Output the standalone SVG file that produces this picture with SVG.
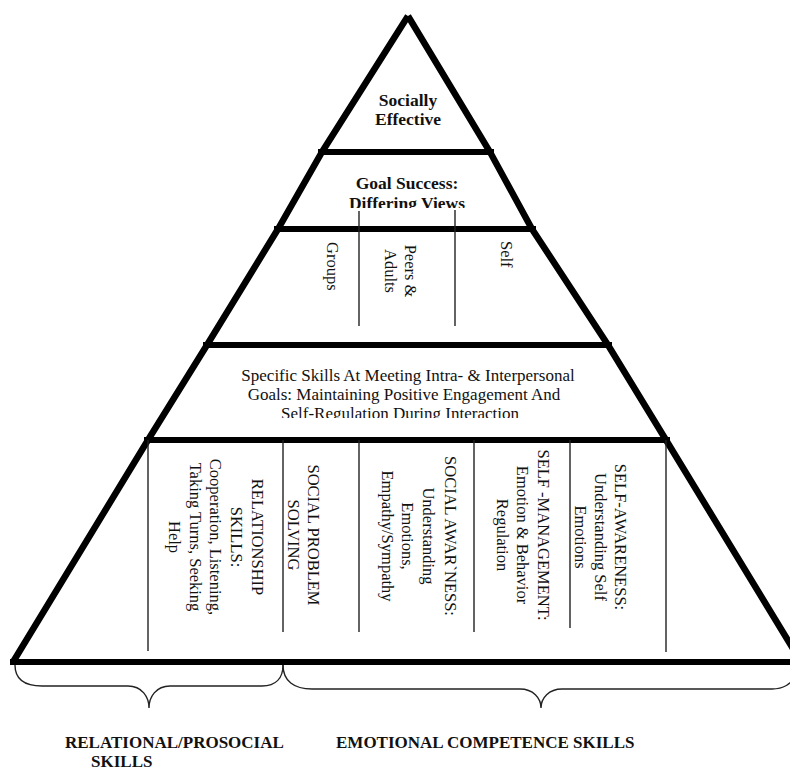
<svg xmlns="http://www.w3.org/2000/svg" width="790" height="771" viewBox="0 0 790 771">
<style>
.edge{fill:none;stroke:#000;stroke-width:6.5;stroke-linejoin:miter;stroke-linecap:butt}
.band{stroke:#000;stroke-width:6}
.div{stroke:#222;stroke-width:1.4}
.brace{fill:none;stroke:#222;stroke-width:1.4}
.t{font-family:"Liberation Serif","Times New Roman",serif;font-size:16.5px;fill:#111}
.m{font-family:"Liberation Serif","Times New Roman",serif;font-size:17px;fill:#111}
.b{font-family:"Liberation Serif","Times New Roman",serif;font-size:17.5px;font-weight:bold;fill:#111}
.lb{font-family:"Liberation Serif","Times New Roman",serif;font-size:17px;font-weight:bold;fill:#111}
</style>
<defs>
<clipPath id="clipGoal"><rect x="300" y="160" width="220" height="48"/></clipPath>
<clipPath id="clipMid"><rect x="200" y="350" width="420" height="68"/></clipPath>
</defs>
<rect width="790" height="771" fill="#fff"/>

<g id="connectors">
<polyline class="edge" points="408,16 322,152 278,229 207,345 148,440 13,662"/>
<polyline class="edge" points="408,16 490,152 532,229 608,345 666,440 806,670"/>
<line class="band" x1="318" y1="152" x2="494" y2="152"/>
<line class="band" x1="274" y1="229" x2="536" y2="229"/>
<line class="band" x1="203" y1="345" x2="612" y2="345"/>
<line class="band" x1="144" y1="440" x2="670" y2="440"/>
<line class="band" x1="10" y1="662" x2="790" y2="662"/>
<line class="div" x1="359" y1="211" x2="359" y2="326"/>
<line class="div" x1="455" y1="210" x2="455" y2="326"/>
<line class="div" x1="148" y1="440" x2="148" y2="651"/>
<line class="div" x1="283" y1="440" x2="283" y2="632"/>
<line class="div" x1="359" y1="440" x2="359" y2="632"/>
<line class="div" x1="474" y1="440" x2="474" y2="632"/>
<line class="div" x1="570" y1="440" x2="570" y2="628"/>
<line class="div" x1="666" y1="440" x2="666" y2="652"/>
<path class="brace" d="M15,665 C15,679 24,686 42,686 L128,686 C142,686 149,697 149,708 C149,697 156,686 170,686 L262,686 C276,686 283,678 283,665"/>
<path class="brace" d="M283,665 C283,681 294,689 312,689 L520,689 C533,689 541,698 541,708 C541,698 549,689 562,689 L772,689 C784,689 790,684 797,676"/>
</g>

<g id="node-socially-effective">
<text class="b" text-anchor="middle" x="408" y="106">Socially</text>
<text class="b" text-anchor="middle" x="408" y="125">Effective</text>
</g>

<g id="node-goal-success" clip-path="url(#clipGoal)">
<text class="b" text-anchor="middle" x="407" y="189">Goal Success:</text>
<text class="b" text-anchor="middle" x="407" y="209">Differing Views</text>
</g>

<g id="node-groups">
<text class="t" transform="translate(326.5,242) rotate(90)">Groups</text>
</g>
<g id="node-peers-adults">
<text class="t" text-anchor="middle" transform="translate(404.5,271) rotate(90)">Peers &amp;<tspan x="0" dy="20">Adults</tspan></text>
</g>
<g id="node-self">
<text class="t" transform="translate(500.5,241) rotate(90)">Self</text>
</g>

<g id="node-specific-skills" clip-path="url(#clipMid)">
<text class="m" text-anchor="middle" x="408" y="381">Specific Skills At Meeting Intra- &amp; Interpersonal</text>
<text class="m" text-anchor="middle" x="404" y="400">Goals: Maintaining Positive Engagement And</text>
<text class="m" text-anchor="middle" x="400" y="419">Self-Regulation During Interaction</text>
</g>

<g id="node-relationship-skills">
<text class="t" text-anchor="middle" transform="translate(251.5,537) rotate(90)">RELATIONSHIP<tspan x="0" dy="20.5">SKILLS:</tspan><tspan x="0" dy="21">Cooperation, Listening,</tspan><tspan x="0" dy="20.5">Taking Turns, Seeking</tspan><tspan x="0" dy="21">Help</tspan></text>
</g>
<g id="node-social-problem-solving">
<text class="t" text-anchor="middle" transform="translate(307.5,535) rotate(90)">SOCIAL PROBLEM<tspan x="0" dy="20">SOLVING</tspan></text>
</g>
<g id="node-social-awareness">
<text class="t" text-anchor="middle" transform="translate(444.5,536) rotate(90)">SOCIAL AWAR`NESS:<tspan x="0" dy="22">Understanding</tspan><tspan x="0" dy="20.5">Emotions,</tspan><tspan x="0" dy="20">Empathy/Sympathy</tspan></text>
</g>
<g id="node-self-management">
<text class="t" text-anchor="middle" transform="translate(537.5,535) rotate(90)">SELF -MANAGEMENT:<tspan x="0" dy="20.5">Emotion &amp; Behavior</tspan><tspan x="0" dy="20.5">Regulation</tspan></text>
</g>
<g id="node-self-awareness">
<text class="t" text-anchor="middle" transform="translate(614.5,537) rotate(90)">SELF-AWARENESS:<tspan x="0" dy="20">Understanding Self</tspan><tspan x="0" dy="20">Emotions</tspan></text>
</g>

<g id="label-relational">
<text class="lb" x="65" y="748">RELATIONAL/PROSOCIAL</text>
<text class="lb" x="91" y="767">SKILLS</text>
</g>
<g id="label-emotional">
<text class="lb" x="336" y="748">EMOTIONAL COMPETENCE SKILLS</text>
</g>
</svg>
